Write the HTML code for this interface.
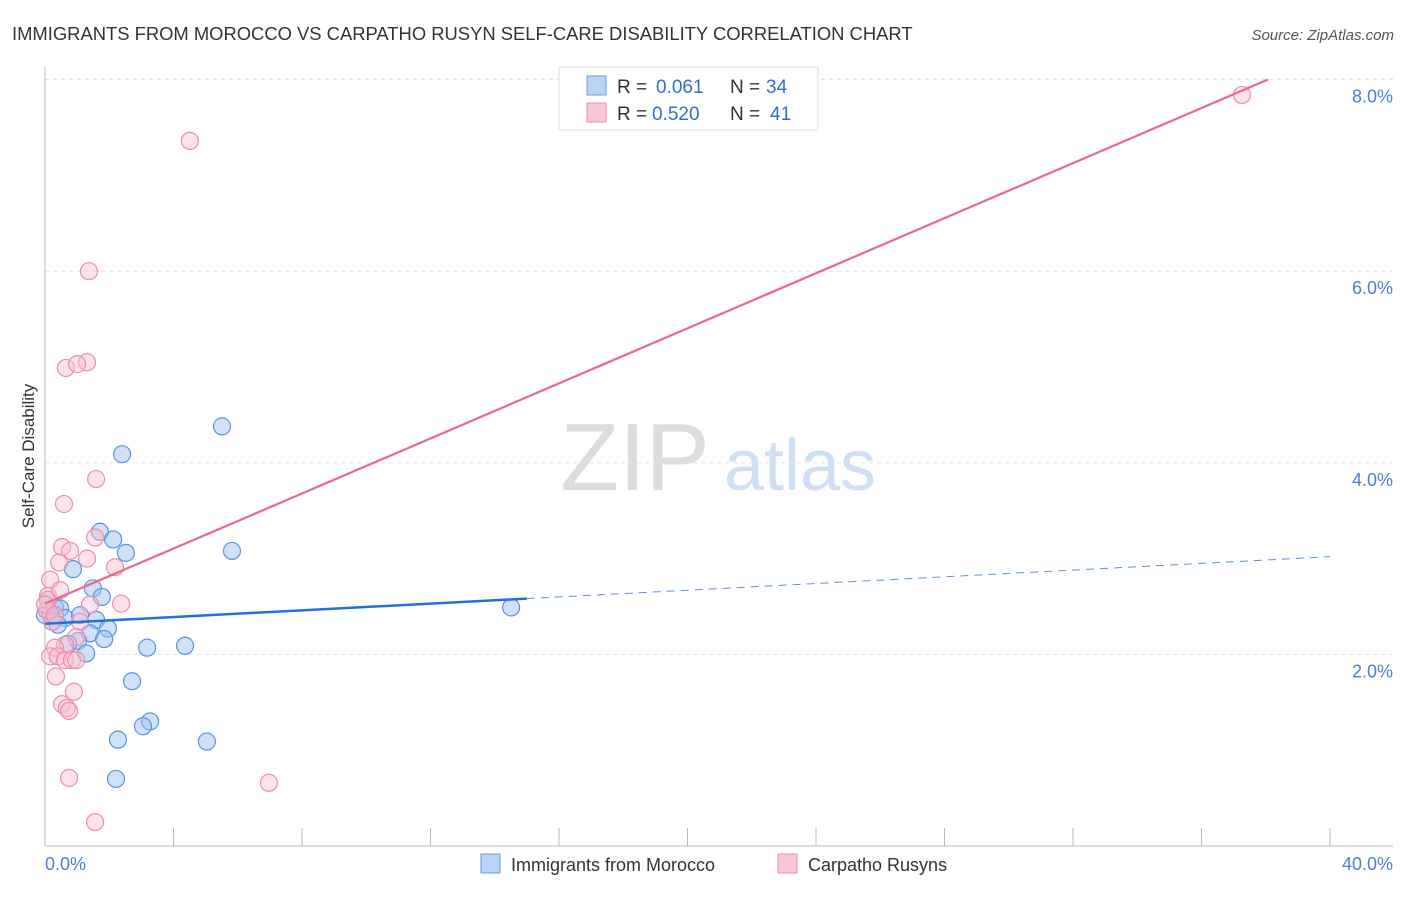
<!DOCTYPE html>
<html><head><meta charset="utf-8"><style>
body{margin:0;background:#fff;font-family:"Liberation Sans",sans-serif;}
svg text{font-family:"Liberation Sans",sans-serif;}
</style></head><body>
<svg id="chart" width="1406" height="892" xmlns="http://www.w3.org/2000/svg">
<text x="12" y="40" font-size="18.4" fill="#333">IMMIGRANTS FROM MOROCCO VS CARPATHO RUSYN SELF-CARE DISABILITY CORRELATION CHART</text>
<text x="1394" y="40" font-size="15" fill="#555" font-style="italic" text-anchor="end">Source: ZipAtlas.com</text>
<g>
<text x="635" y="490" font-size="96" fill="#dcdcdc" font-family="Liberation Serif" text-anchor="middle">ZIP</text>
<text x="800" y="490" font-size="72" fill="#cfe0f5" text-anchor="middle">atlas</text>
</g>
<g id="grid"></g>
<g id="axes"></g>
<g id="marks"></g>
<text transform="translate(34,456) rotate(-90)" font-size="17" fill="#333" text-anchor="middle">Self-Care Disability</text>
<text x="45" y="870" font-size="18" fill="#4a7fd6">0.0%</text>
<text x="1393" y="870" font-size="18" fill="#4a7fd6" text-anchor="end">40.0%</text>
<g>
<rect x="559" y="67" width="259" height="63" fill="#fff" stroke="#ddd"/>
<rect x="587" y="76" width="19" height="19" fill="#b9d3f7" stroke="#6a9ee6"/>
<text x="617" y="93" font-size="19" fill="#333">R = </text><text x="656" y="93" font-size="19" fill="#2f6fd0">0.061</text>
<text x="730" y="93" font-size="19" fill="#333">N = </text><text x="766" y="93" font-size="19" fill="#2f6fd0">34</text>
<rect x="587" y="103" width="19" height="19" fill="#f9c6d5" stroke="#ec8fab"/>
<text x="617" y="120" font-size="19" fill="#333">R = </text><text x="652" y="120" font-size="19" fill="#2f6fd0">0.520</text>
<text x="730" y="120" font-size="19" fill="#333">N = </text><text x="770" y="120" font-size="19" fill="#2f6fd0">41</text>
</g>
<g>
<rect x="481" y="854" width="19" height="19" fill="#b9d3f7" stroke="#6a9ee6"/>
<text x="511" y="871" font-size="18" fill="#333">Immigrants from Morocco</text>
<rect x="778" y="854" width="19" height="19" fill="#f9c6d5" stroke="#ec8fab"/>
<text x="808" y="871" font-size="18" fill="#333">Carpatho Rusyns</text>
</g>
</svg>
<script>
const yTicks=[2,4,6,8];
const yTickLabels=["2.0%","4.0%","6.0%","8.0%"];
const xTicks=[0,4,8,12,16,20,24,28,32,36,40];
const moroccoX=[5.51,2.40,1.71,2.12,2.52,5.82,0.87,1.49,1.77,0.09,0.31,0.47,0.16,0.62,1.09,1.59,1.96,1.40,1.03,1.84,0.72,1.28,3.18,4.36,2.71,2.27,3.27,3.05,5.04,2.21,14.51,0.0,0.22,0.40];
const moroccoY=[4.38,4.09,3.28,3.20,3.06,3.08,2.89,2.69,2.60,2.57,2.49,2.48,2.43,2.38,2.41,2.36,2.27,2.22,2.14,2.16,2.11,2.01,2.07,2.09,1.72,1.11,1.30,1.25,1.09,0.70,2.49,2.41,2.34,2.31];
const rusynX=[37.26,4.51,1.37,1.31,0.65,1.00,1.59,0.59,0.53,0.78,0.44,1.31,2.18,1.56,0.16,0.09,2.37,0.06,1.40,0.22,1.09,0.97,0.62,0.31,0.16,0.40,0.62,0.84,0.97,0.34,0.90,0.53,0.68,0.75,0.75,1.56,6.97,0.09,0.0,0.31,0.47];
const rusynY=[7.84,7.36,6.00,5.05,4.99,5.03,3.83,3.57,3.12,3.08,2.96,3.00,2.91,3.22,2.78,2.61,2.53,2.46,2.52,2.34,2.34,2.18,2.10,2.07,1.98,1.98,1.94,1.94,1.94,1.77,1.61,1.48,1.44,1.41,0.71,0.25,0.66,2.57,2.52,2.41,2.67];
const moroccoTrend=[2.32,0.0175];
const rusynTrend=[2.53,0.1437];
const moroccoSolidEnd=15;
const rusynEnd=38.07;

const NS="http://www.w3.org/2000/svg";
const X0=45,X1=1330,Y0=846,PPY=95.8;
const sx=v=>X0+v/40*(X1-X0);
const sy=v=>Y0-v*PPY;
function mk(tag,attrs,parent){const e=document.createElementNS(NS,tag);for(const k in attrs)e.setAttribute(k,attrs[k]);parent.appendChild(e);return e;}
const grid=document.getElementById('grid'),axes=document.getElementById('axes'),marks=document.getElementById('marks');
yTicks.forEach((t,i)=>{
 const l=mk('line',{x1:45,x2:1393,y1:sy(t),y2:sy(t),stroke:'#e3e3e3','stroke-dasharray':'4,4'},grid);
 
 
 const tx=mk('text',{x:1393,y:sy(t)+23,'font-size':18,fill:'#4a7fd6','text-anchor':'end'},axes);
 tx.textContent=yTickLabels[i];
 
 
});
const topGrid=mk('line',{x1:45,x2:1393,y1:79,y2:79,stroke:'#e3e3e3','stroke-dasharray':'4,4'},grid);


const ya=mk('line',{x1:45,x2:45,y1:67,y2:846,stroke:'#bbb'},axes);


const xa=mk('line',{x1:45,x2:1393,y1:846,y2:846,stroke:'#bbb'},axes);


xTicks.forEach(t=>{
 const l=mk('line',{x1:sx(t),x2:sx(t),y1:828,y2:846,stroke:'#bbb'},axes);
 
 
});
moroccoX.forEach((x,i)=>{
 const c=mk('circle',{cx:sx(x),cy:sy(moroccoY[i]),r:8.5,fill:'rgba(160,196,242,0.5)',stroke:'#5b93e0','stroke-width':1.2},marks);
 
 
});
rusynX.forEach((x,i)=>{
 const c=mk('circle',{cx:sx(x),cy:sy(rusynY[i]),r:8.5,fill:'rgba(248,190,208,0.45)',stroke:'#ec8fab','stroke-width':1.2},marks);
 
 
});
const tb=x=>moroccoTrend[0]+moroccoTrend[1]*x, tp=x=>rusynTrend[0]+rusynTrend[1]*x;
const l1=mk('line',{x1:sx(0),y1:sy(tb(0)),x2:sx(moroccoSolidEnd),y2:sy(tb(moroccoSolidEnd)),stroke:'#2370d6','stroke-width':2.5},marks);


const l2=mk('line',{x1:sx(moroccoSolidEnd),y1:sy(tb(moroccoSolidEnd)),x2:sx(40),y2:sy(tb(40)),stroke:'#5b93e0','stroke-width':1,'stroke-dasharray':'8,6'},marks);


const l3=mk('line',{x1:sx(0),y1:sy(tp(0)),x2:sx(rusynEnd),y2:sy(tp(rusynEnd)),stroke:'#e8678f','stroke-width':2.2},marks);


</script>
</body></html>
